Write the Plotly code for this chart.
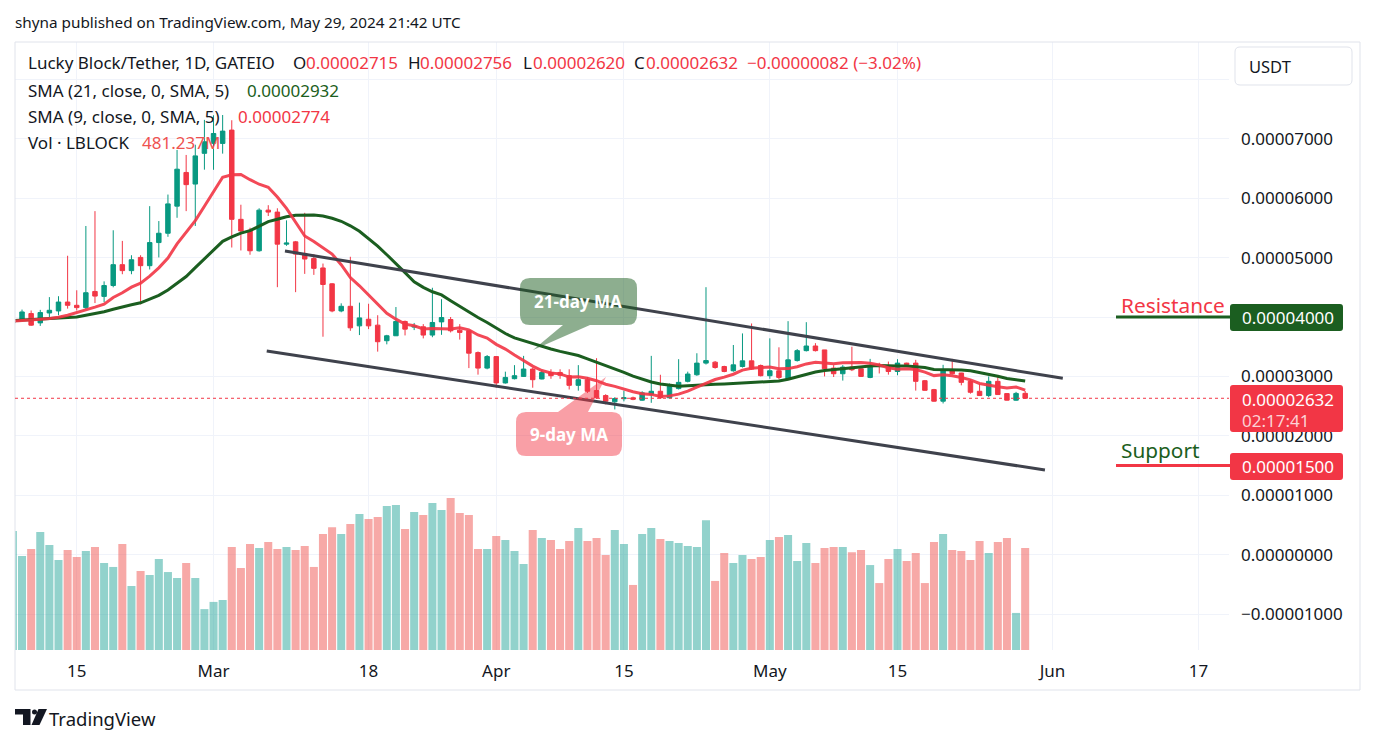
import pandas as pd
import plotly.graph_objects as go

# ---------------- data (prices in units of 1e-8 USDT, volume in millions) -------------
start_date = "2024-02-08"
end_date = "2024-05-29"
PRICE_UNIT = 1e-8

opens = [3900, 3946, 4058, 3901, 4068, 4102, 4252, 4197, 4158, 4430, 4347, 4530, 4881, 4781, 5003, 4864,
         5253, 5410, 5866, 6433, 6238, 6755, 6922, 6922, 7146, 5644, 5460, 5115, 5799, 5766, 5226, 5265,
         5070, 4986, 4826, 4559, 4102, 4180, 3851, 3963, 3863, 3601, 3684, 3925, 3830, 3835, 3696, 3918,
         3958, 3779, 3768, 3401, 3140, 3334, 2890, 2962, 3000, 3124, 2957, 3067, 3067, 3012, 2850, 2945,
         2762, 2678, 2573, 2625, 2640, 2600, 2695, 2750, 2640, 2795, 2917, 3028, 3224, 3240, 3167, 3095,
         3167, 3262, 3184, 3012, 3095, 2962, 3267, 3434, 3512, 3446, 3140, 3045, 3157, 3129, 2983, 3179,
         3167, 3083, 3224, 3224, 2928, 2778, 2583, 3112, 3057, 2917, 2750, 2678, 2917, 2711, 2600, 2715]
highs = [3990, 4125, 4110, 4120, 4335, 4350, 5031, 4450, 5532, 5782, 4600, 5460, 5281, 5040, 5040, 5866,
         5615, 6061, 6812, 6728, 6900, 7318, 7396, 7400, 7312, 5890, 5503, 5830, 5882, 5830, 5627, 5280,
         5754, 5059, 4900, 4570, 4230, 5014, 4242, 4223, 4030, 3700, 4168, 3940, 3900, 3880, 4492, 4300,
         4000, 3880, 3768, 3420, 3360, 3340, 3080, 3190, 3346, 3150, 3110, 3120, 3120, 3120, 3190, 2990,
         3307, 2700, 2650, 2760, 2660, 2750, 3346, 3028, 2880, 3290, 3080, 3390, 4502, 3260, 3180, 3529,
         3724, 3891, 3200, 3641, 3490, 3930, 3460, 3913, 3560, 3446, 3190, 3190, 3500, 3140, 3295, 3230,
         3250, 3290, 3230, 3279, 2940, 2790, 3195, 3295, 3060, 2950, 2870, 3000, 3020, 2720, 2740, 2756]
lows = [3870, 3935, 3850, 3850, 3975, 4030, 4141, 4110, 4130, 4235, 4250, 4500, 4720, 4720, 4213, 4800,
        5003, 5350, 5670, 5782, 5532, 6480, 6478, 6750, 5170, 5120, 5048, 5100, 5700, 4502, 5198, 4418,
        4726, 4709, 3668, 4080, 4080, 3768, 3696, 3796, 3417, 3540, 3680, 3690, 3780, 3640, 3660, 3700,
        3740, 3620, 3140, 3030, 3120, 2810, 2880, 2950, 2990, 2810, 2950, 2960, 2960, 2780, 2760, 2720,
        2620, 2530, 2444, 2580, 2600, 2590, 2556, 2620, 2630, 2780, 2900, 3010, 3200, 3130, 3070, 3080,
        3150, 3110, 3000, 2960, 2950, 2950, 3250, 3420, 3420, 3000, 2990, 2930, 3090, 2990, 2970, 3050,
        3030, 3020, 3190, 2761, 2760, 2575, 2545, 3030, 2850, 2710, 2670, 2650, 2690, 2595, 2590, 2620]
closes = [3950, 4085, 3863, 4075, 4113, 4252, 4197, 4158, 4409, 4352, 4530, 4881, 4781, 4964, 4864, 5253,
          5410, 5904, 6488, 6228, 6712, 6950, 7089, 7129, 5644, 5448, 5115, 5799, 5766, 5226, 5245, 5059,
          4976, 4819, 4547, 4102, 4180, 3818, 3985, 3851, 3584, 3684, 3925, 3796, 3845, 3696, 3908, 3991,
          3768, 3741, 3391, 3140, 3334, 2890, 2983, 3012, 3124, 2945, 3067, 3012, 3020, 2850, 2945, 2750,
          2640, 2583, 2628, 2640, 2615, 2723, 2750, 2640, 2833, 2900, 3040, 3224, 3267, 3150, 3083, 3195,
          3262, 3124, 3012, 3095, 2983, 3279, 3434, 3512, 3434, 3129, 3045, 3157, 3112, 3000, 3179, 3170,
          3083, 3224, 3200, 2917, 2766, 2583, 3112, 3045, 2900, 2733, 2678, 2917, 2695, 2600, 2714, 2632]
volumes_m = [562, 444, 477, 557, 496, 425, 472, 439, 467, 486, 411, 392, 500, 302, 373, 354, 429, 368, 340,
             411, 340, 193, 227, 236, 486, 387, 500, 481, 510, 477, 486, 472, 491, 392, 547, 580, 547, 595,
             642, 618, 628, 680, 684, 571, 651, 637, 694, 661, 717, 647, 637, 477, 477, 538, 519, 467, 406,
             566, 529, 519, 477, 514, 576, 514, 529, 448, 566, 500, 307, 547, 576, 524, 514, 505, 491, 486,
             613, 326, 458, 411, 448, 429, 439, 519, 533, 543, 420, 505, 411, 481, 486, 486, 462, 472, 401,
             316, 429, 477, 420, 458, 316, 510, 547, 472, 467, 425, 514, 458, 510, 529, 175, 481]

# SMA values before a full window is available inside the visible range
sma21_lead = [3938, 3946, 3955, 3963, 3971, 3980, 3988, 4001, 4030, 4055, 4088, 4130, 4172, 4205,
              4239, 4297, 4364, 4455, 4564, 4681]
sma9_lead = [3930, 3938, 3951, 3963, 3975, 3996, 4030, 4080]

# drawings
channel_upper_dates = ["2024-03-08 20:00", "2024-06-02 03:00"]
channel_upper_prices = [5110, 2968]
channel_lower_dates = ["2024-03-06 20:00", "2024-05-31 04:00"]
channel_lower_prices = [3427, 1425]
resistance_price = 4000
support_price = 1500

legend_sma21 = "0.00002932"
legend_sma9 = "0.00002774"
legend_vol = "481.237M"
countdown = "02:17:41"

price_ticks = [-1, 0, 1, 2, 3, 4, 5, 6, 7, 8]  # in 1e-5
x_tick_dates = ["2024-02-15", "2024-03-01", "2024-03-18", "2024-04-01", "2024-04-15",
                "2024-05-01", "2024-05-15", "2024-06-01", "2024-06-17"]
x_tick_labels = ["15", "Mar", "18", "Apr", "15", "May", "15", "Jun", "17"]

# ---------------- derived -------------
dates = pd.date_range(start_date, end_date, freq="D")
o = [v * PRICE_UNIT for v in opens]
h = [v * PRICE_UNIT for v in highs]
l = [v * PRICE_UNIT for v in lows]
c = [v * PRICE_UNIT for v in closes]
cs = pd.Series(c)
sma21 = cs.rolling(21).mean().tolist()
sma9 = cs.rolling(9).mean().tolist()
for i, v in enumerate(sma21_lead):
    sma21[i] = v * PRICE_UNIT
for i, v in enumerate(sma9_lead):
    sma9[i] = v * PRICE_UNIT

UP = "#089981"
DOWN = "#F23645"
DKGREEN = "#1B5E20"
vol_colors = ["rgba(38,166,154,0.5)" if cc >= oo else "rgba(239,83,80,0.5)" for oo, cc in zip(opens, closes)]

# ---------------- layout geometry (pixels) -------------
W, H = 1374, 744
PL, PR, PT, PB = 15, 1229, 42, 650


def px(x):
    return (x - PL) / (PR - PL)


def py(y):
    return (PB - y) / (PB - PT)


FONT = "Noto Sans, DejaVu Sans, sans-serif"
TXT = "#131722"

fig = go.Figure()
fig.add_trace(go.Candlestick(
    x=dates, open=o, high=h, low=l, close=c,
    increasing=dict(line=dict(color=UP, width=1), fillcolor=UP),
    decreasing=dict(line=dict(color=DOWN, width=1), fillcolor=DOWN),
    whiskerwidth=0, yaxis="y", showlegend=False, hoverinfo="skip"))
fig.add_trace(go.Scatter(x=dates, y=sma21, mode="lines", line=dict(color=DKGREEN, width=3),
                         yaxis="y", showlegend=False, hoverinfo="skip"))
fig.add_trace(go.Scatter(x=dates, y=sma9, mode="lines", line=dict(color="#F23645", width=3),
                         opacity=0.9, yaxis="y", showlegend=False, hoverinfo="skip"))
fig.add_trace(go.Bar(x=dates, y=volumes_m, marker=dict(color=vol_colors, line=dict(width=0)),
                     yaxis="y2", showlegend=False, hoverinfo="skip"))

t0 = pd.Timestamp(start_date)
x_range = [t0 + pd.Timedelta(days=0.23), t0 + pd.Timedelta(days=133.35)]
y_range = [-1.605e-5, 8.629e-5]


def fmt_price(v):
    s = f"{abs(v):.8f}"
    return ("\u2212" + s) if v < 0 else s


tickvals = [t * 1e-5 for t in price_ticks]
ticktext = [fmt_price(v) if abs(v - 8e-5) > 1e-9 else "" for v in tickvals]

fig.update_layout(
    width=W, height=H, autosize=False,
    margin=dict(l=PL, r=W - PR, t=PT, b=H - PB),
    paper_bgcolor="white", plot_bgcolor="white",
    bargap=0.12, boxgap=0.3,
    font=dict(family=FONT, color=TXT, size=15),
    xaxis=dict(type="date", range=x_range, rangeslider=dict(visible=False),
               tickvals=[pd.Timestamp(d) for d in x_tick_dates], ticktext=x_tick_labels,
               showgrid=True, gridcolor="#F0F3FA", gridwidth=1, zeroline=False, showline=False,
               ticks="", tickfont=dict(size=17, color=TXT, family=FONT), ticklabelstandoff=9,
               fixedrange=True, automargin=False),
    yaxis=dict(range=y_range, side="right", tickvals=tickvals, ticktext=ticktext,
               showgrid=True, gridcolor="#F0F3FA", gridwidth=1, zeroline=False, showline=False,
               ticks="", tickfont=dict(size=17, color=TXT, family=FONT), ticklabelstandoff=11,
               automargin=False),
    yaxis2=dict(range=[0, 2870], overlaying="y", visible=False, showgrid=False),
)

shapes = []
annotations = []


def pts_to_path(pts):
    out = []
    for p in pts:
        cmd = p[0]
        coords = p[1:]
        pairs = [f"{px(coords[k]):.5f},{py(coords[k + 1]):.5f}" for k in range(0, len(coords), 2)]
        out.append(cmd + " " + " ".join(pairs))
    return " ".join(out) + " Z"


def rrect_path(x0, y0, x1, y1, r):
    pts = [("M", x0 + r, y0), ("L", x1 - r, y0), ("Q", x1, y0, x1, y0 + r), ("L", x1, y1 - r),
           ("Q", x1, y1, x1 - r, y1), ("L", x0 + r, y1), ("Q", x0, y1, x0, y1 - r), ("L", x0, y0 + r),
           ("Q", x0, y0, x0 + r, y0)]
    return pts_to_path(pts)


def callout_path(x0, y0, x1, y1, r, tail_a, tail_b, tip, side):
    if side == "bottom":
        pts = [("M", x0 + r, y0), ("L", x1 - r, y0), ("Q", x1, y0, x1, y0 + r), ("L", x1, y1 - r),
               ("Q", x1, y1, x1 - r, y1), ("L", tail_b, y1), ("L", tip[0], tip[1]), ("L", tail_a, y1),
               ("L", x0 + r, y1), ("Q", x0, y1, x0, y1 - r), ("L", x0, y0 + r), ("Q", x0, y0, x0 + r, y0)]
    else:
        pts = [("M", x0 + r, y0), ("L", tail_a, y0), ("L", tip[0], tip[1]), ("L", tail_b, y0),
               ("L", x1 - r, y0), ("Q", x1, y0, x1, y0 + r), ("L", x1, y1 - r),
               ("Q", x1, y1, x1 - r, y1), ("L", x0 + r, y1), ("Q", x0, y1, x0, y1 - r), ("L", x0, y0 + r),
               ("Q", x0, y0, x0 + r, y0)]
    return pts_to_path(pts)


# outer frame
shapes.append(dict(type="rect", xref="paper", yref="paper", x0=px(15), x1=px(1360), y0=py(690), y1=py(42),
                   line=dict(color="#E0E3EB", width=1), fillcolor="rgba(0,0,0,0)", layer="above"))
# channel
shapes.append(dict(type="line", xref="x", yref="y", x0=channel_upper_dates[0], x1=channel_upper_dates[1],
                   y0=channel_upper_prices[0] * PRICE_UNIT, y1=channel_upper_prices[1] * PRICE_UNIT,
                   line=dict(color="#3F424C", width=3), layer="above"))
shapes.append(dict(type="line", xref="x", yref="y", x0=channel_lower_dates[0], x1=channel_lower_dates[1],
                   y0=channel_lower_prices[0] * PRICE_UNIT, y1=channel_lower_prices[1] * PRICE_UNIT,
                   line=dict(color="#3F424C", width=3), layer="above"))
# current price dotted line
shapes.append(dict(type="line", xref="paper", yref="y", x0=0, x1=1, y0=c[-1], y1=c[-1],
                   line=dict(color=DOWN, width=1, dash="dot"), layer="above"))
# resistance / support lines
shapes.append(dict(type="line", xref="paper", yref="y", x0=px(1116), x1=px(1231),
                   y0=resistance_price * PRICE_UNIT, y1=resistance_price * PRICE_UNIT,
                   line=dict(color=DKGREEN, width=3), layer="above"))
shapes.append(dict(type="line", xref="paper", yref="y", x0=px(1116), x1=px(1231),
                   y0=support_price * PRICE_UNIT, y1=support_price * PRICE_UNIT,
                   line=dict(color=DOWN, width=3), layer="above"))
# price boxes on axis
shapes.append(dict(type="path", xref="paper", yref="paper", path=rrect_path(1230, 304, 1343, 331, 3),
                   fillcolor=DKGREEN, line=dict(width=0), layer="above"))
shapes.append(dict(type="path", xref="paper", yref="paper", path=rrect_path(1230, 385, 1343, 432, 3),
                   fillcolor=DOWN, line=dict(width=0), layer="above"))
shapes.append(dict(type="path", xref="paper", yref="paper", path=rrect_path(1230, 453, 1343, 480, 3),
                   fillcolor=DOWN, line=dict(width=0), layer="above"))
# USDT button
shapes.append(dict(type="path", xref="paper", yref="paper", path=rrect_path(1235, 47, 1352, 85, 5),
                   fillcolor="white", line=dict(color="#E0E3EB", width=1), layer="above"))
# callouts
shapes.append(dict(type="path", xref="paper", yref="paper",
                   path=callout_path(520, 278, 637, 325, 10, 563, 590, (533, 350), "bottom"),
                   fillcolor="rgba(27,94,32,0.5)", line=dict(width=0), layer="above"))
shapes.append(dict(type="path", xref="paper", yref="paper",
                   path=callout_path(516, 412, 622, 456, 10, 558, 588, (606, 377), "top"),
                   fillcolor="rgba(242,54,69,0.48)", line=dict(width=0), layer="above"))
# TradingView logo
shapes.append(dict(type="path", xref="paper", yref="paper",
                   path=pts_to_path([("M", 15, 709), ("L", 30.5, 709), ("L", 30.5, 725), ("L", 23, 725),
                                     ("L", 23, 714.5), ("L", 15, 714.5)]),
                   fillcolor=TXT, line=dict(width=0), layer="above"))
shapes.append(dict(type="circle", xref="paper", yref="paper", x0=px(32), x1=px(37), y0=py(714.5), y1=py(709.5),
                   fillcolor=TXT, line=dict(width=0), layer="above"))
shapes.append(dict(type="path", xref="paper", yref="paper",
                   path=pts_to_path([("M", 38.5, 709), ("L", 47, 709), ("L", 39.5, 725), ("L", 31.5, 725)]),
                   fillcolor=TXT, line=dict(width=0), layer="above"))


def txt(x, y, text, size=15, color=TXT, anchor="left", bold=False):
    if bold:
        text = f"<b>{text}</b>"
    xo = x - 2 if anchor == "left" else x
    annotations.append(dict(xref="paper", yref="paper", x=px(xo), y=py(y), text=text, showarrow=False,
                            xanchor=anchor, yanchor="middle", font=dict(size=size, color=color, family=FONT)))


LEG = 17
chg = closes[-1] - closes[-2]
pct = chg / closes[-2] * 100
chg_txt = f"{fmt_price(chg * PRICE_UNIT)} ({'\u2212' if pct < 0 else '+'}{abs(pct):.2f}%)"

txt(15, 22, "shyna published on TradingView.com, May 29, 2024 21:42 UTC", size=15.3)
# legend line 1
txt(28, 63, "Lucky Block/Tether, 1D, GATEIO", size=LEG)
txt(293, 63, "O", size=LEG)
txt(306, 63, fmt_price(o[-1]), size=LEG, color=DOWN)
txt(408, 63, "H", size=LEG)
txt(420, 63, fmt_price(h[-1]), size=LEG, color=DOWN)
txt(523, 63, "L", size=LEG)
txt(533, 63, fmt_price(l[-1]), size=LEG, color=DOWN)
txt(634, 63, "C", size=LEG)
txt(646, 63, fmt_price(c[-1]), size=LEG, color=DOWN)
txt(747, 63, chg_txt, size=LEG, color=DOWN)
# legend lines 2-4
txt(28, 90, "SMA (21, close, 0, SMA, 5)", size=LEG)
txt(247, 90, legend_sma21, size=LEG, color=DKGREEN)
txt(28, 116, "SMA (9, close, 0, SMA, 5)", size=LEG)
txt(238, 116, legend_sma9, size=LEG, color=DOWN)
txt(28, 142, "Vol \u00b7 LBLOCK", size=LEG)
txt(142, 142, legend_vol, size=LEG, color="#EF5350")

txt(1249, 66, "USDT", size=16.5)
txt(1242, 317.5, "0.00004000", size=17, color="white")
txt(1242, 399, fmt_price(c[-1]), size=17, color="white")
txt(1242, 420, countdown, size=17, color="rgba(255,255,255,0.78)")
txt(1242, 466.5, fmt_price(support_price * PRICE_UNIT), size=17, color="white")
txt(1121, 305, "Resistance", size=20.8, color=DOWN)
txt(1121, 450, "Support", size=20.8, color=DKGREEN)
txt(578, 301, "21-day MA", size=17, color="white", anchor="center", bold=True)
txt(569, 434, "9-day MA", size=17, color="white", anchor="center", bold=True)
txt(49, 718, "TradingView", size=18.5)

fig.update_layout(shapes=shapes, annotations=annotations)
fig.write_html("out.html")
